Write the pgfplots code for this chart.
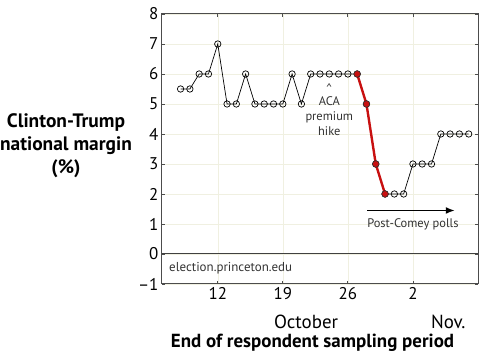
\documentclass[border=0pt]{standalone}
\usepackage{pgfplots}
\pgfplotsset{compat=1.18}
\usetikzlibrary{arrows.meta}
\usepackage{fontspec}
\setmainfont{PT Sans}
\begin{document}
\begin{tikzpicture}
\begin{axis}[name=ax, scale only axis, width=316bp, height=270bp,
  xmin=6, xmax=40, ymin=-1, ymax=8,
  xtick={12,19,26,33}, xticklabels={12,19,26,2},
  ytick={-1,0,...,8}, yticklabels={--1,0,1,2,3,4,5,6,7,8},
  grid=major, grid style={color={rgb,255:red,240;green,240;blue,225}, line width=0.5pt},
  tick align=inside, major tick length=3bp,
  axis line style={black!70, line width=1pt}, tick style={black!70, line width=0.8pt},
  ticklabel style={font=\fontsize{17}{20}\selectfont},
  /pgf/number format/assume math mode=true,
  clip=false]
\draw[black!75, line width=1pt] (axis cs:6,0) -- (axis cs:40,0);
\addplot[black, line width=0.7pt, mark=o, mark size=3.2bp, mark options={fill=white, line width=0.7pt}] coordinates {
(8,5.5) (9,5.5) (10,6) (11,6) (12,7) (13,5) (14,5) (15,6) (16,5) (17,5) (18,5) (19,5) (20,6) (21,5) (22,6) (23,6) (24,6) (25,6) (26,6) (27,6) (28,5) (29,3) (30,2) (31,2) (32,2) (33,3) (34,3) (35,3) (36,4) (37,4) (38,4) (39,4)};
\addplot[color={rgb,255:red,200;green,16;blue,16}, line width=2.4pt, mark=*, mark size=3.3bp, mark options={fill={rgb,255:red,200;green,16;blue,16}, draw=black!80, line width=0.6pt}] coordinates {
(27,6) (28,5) (29,3) (30,2)};
\node[font=\fontsize{12.5}{15}\selectfont, align=center, text=black!80] at (axis cs:24,4.8) {\^{}\\[-2pt]ACA\\premium\\hike};
\draw[-{Latex[length=9bp,width=7bp]}, line width=1.5pt] (axis cs:28.1,1.45) -- (axis cs:37.5,1.45);
\node[font=\fontsize{12.5}{15}\selectfont, text=black!80] at (axis cs:33,1.0) {Post-Comey polls};
\node[font=\fontsize{13}{15}\selectfont, text=black!80, anchor=west] at (axis cs:6.4,-0.48) {election.princeton.edu};
\node[font=\fontsize{19}{22}\selectfont] at (axis cs:21.5,-2.27) {October};
\node[font=\fontsize{19}{22}\selectfont] at (axis cs:36.8,-2.27) {Nov.};
\node[font=\bfseries\fontsize{19}{22}\selectfont] at (axis cs:22.2,-2.95) {End of respondent sampling period};
\node[font=\bfseries\fontsize{19.5}{23}\selectfont, align=center] at ([xshift=-96bp]axis cs:6,3.6) {Clinton-Trump\\national margin\\(\%)};
\end{axis}
\pgfresetboundingbox
\path ([shift={(-162bp,-74bp)}]ax.south west) rectangle ([shift={(4bp,14bp)}]ax.north east);
\end{tikzpicture}
\end{document}
